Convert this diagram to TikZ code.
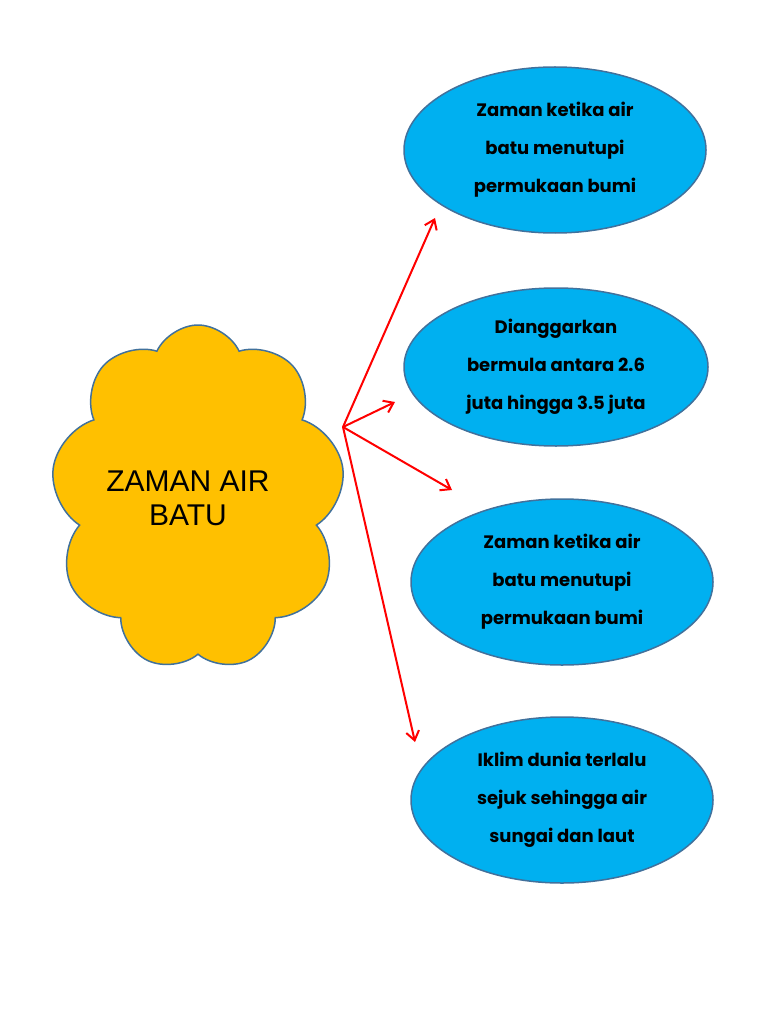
\documentclass[tikz,border=0pt]{standalone}
\usepackage{fontspec}
\setmainfont{Liberation Sans}
\newfontfamily\gothic{Poppins}
\usetikzlibrary{shapes.geometric, shapes.symbols, arrows.meta}

\definecolor{cloudfill}{HTML}{FFC000}
\definecolor{skyfill}{HTML}{00B0F0}
\definecolor{rim}{HTML}{41719C}

\tikzset{
  idea/.style={ellipse, draw=rim, fill=skyfill, line width=1.5pt, minimum width=302pt, minimum height=166pt, inner sep=0pt, align=center, font=\gothic\bfseries\fontsize{18}{38}\selectfont},
  link/.style={red, line width=2pt, -{Straight Barb[length=9pt, width=13pt]}}
}

\begin{document}
\begin{tikzpicture}[x=1pt, y=-1pt]
		\useasboundingbox (0,0) rectangle (768,1024);
		
		\node[cloud, cloud puffs=9, cloud puff arc=130, aspect=0.85, draw=rim, fill=cloudfill, line width=1.5pt, inner sep=-30pt, minimum width=294pt, minimum height=346pt, align=center, font=\fontsize{30}{34}\selectfont] (age) at (198,498) {\raisebox{-7pt}{ZAMAN AIR}\hspace*{20pt}\\\raisebox{-7pt}{BATU}\hspace*{20pt}};
		
		\node[idea] (ice) at (555,150) {Zaman ketika air\\batu menutupi\\permukaan bumi};
		\node[idea, minimum width=304pt, minimum height=158pt] (date) at (556,367) {Dianggarkan\\bermula antara 2.6\\juta hingga 3.5 juta};
		\node[idea] (cover) at (562,582) {Zaman ketika air\\batu menutupi\\permukaan bumi};
		\node[idea] (cold) at (562,800) {Iklim dunia terlalu\\sejuk sehingga air\\sungai dan laut};
		
		\coordinate (hub) at (343,427);
		\coordinate (t1) at (435,218);
		\coordinate (t2) at (395,402);
		\coordinate (t3) at (452,490);
		\coordinate (t4) at (415,742);
		
		\draw[link] (hub) -- (t1);
		\draw[link] (hub) -- (t2);
		\draw[link] (hub) -- (t3);
		\draw[link] (hub) -- (t4);
	\end{tikzpicture}
\end{document}
